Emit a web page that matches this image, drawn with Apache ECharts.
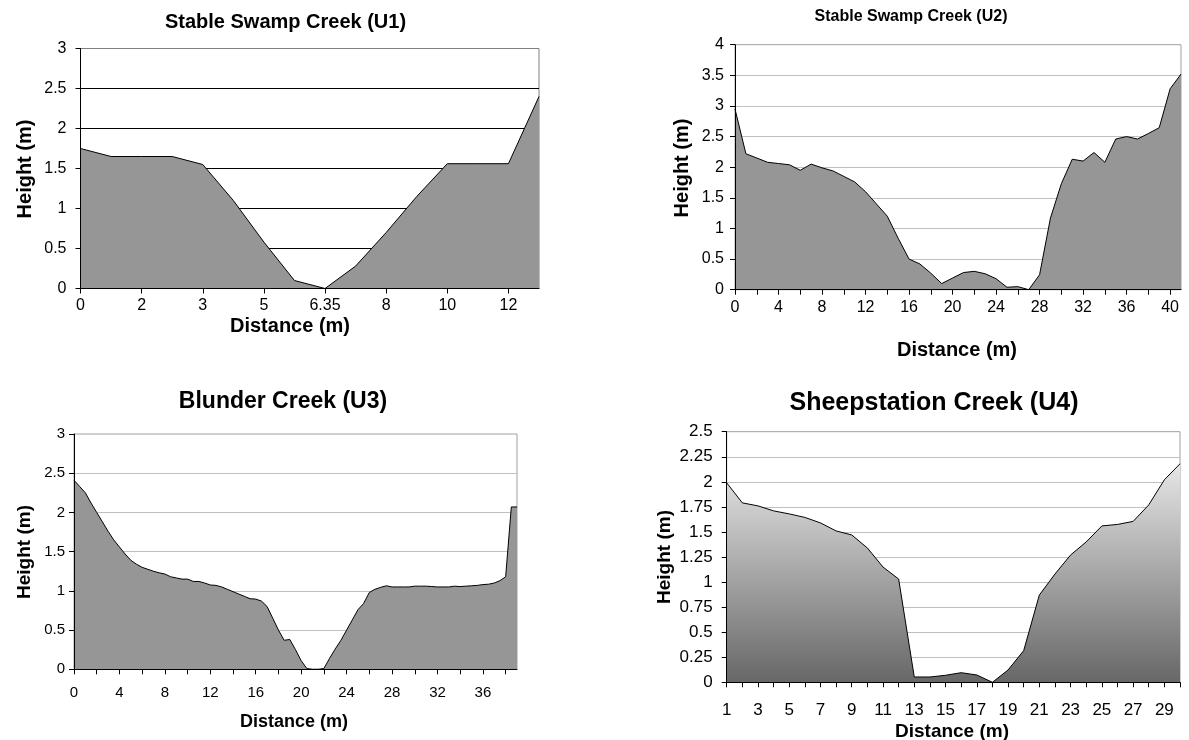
<!DOCTYPE html>
<html>
<head>
<meta charset="utf-8">
<script src="https://cdn.jsdelivr.net/npm/echarts@6/dist/echarts.min.js"></script>
<style>
  html, body { margin: 0; padding: 0; background: #fff; }
  #chart { width: 1189px; height: 740px; }
</style>
</head>
<body>
<div id="chart"></div>
<script>
// ---------- DATA ----------
// U1: Stable Swamp Creek
const u1Categories = ['0', '', '2', '', '3', '', '5', '', '6.35', '', '8', '', '10', '', '12', ''];
const u1Height = [1.75, 1.65, 1.65, 1.65, 1.55, 1.10, 0.58, 0.10, 0, 0.28, 0.70, 1.15, 1.56, 1.56, 1.56, 2.40];
const u1YTicks = [0, 0.5, 1, 1.5, 2, 2.5, 3];

// U2: Stable Swamp Creek
const u2Distance = [0,1,2,3,4,5,6,7,8,9,10,11,12,13,14,15,16,17,18,19,20,21,22,23,24,25,26,27,28,29,30,31,32,33,34,35,36,37,38,39,40,41];
const u2Height = [2.95, 2.22, 2.15, 2.08, 2.06, 2.04, 1.95, 2.05, 1.99, 1.94, 1.85, 1.76, 1.60, 1.40, 1.20, 0.84,
                  0.50, 0.42, 0.27, 0.10, 0.19, 0.28, 0.30, 0.26, 0.18, 0.04, 0.05, 0.0, 0.245, 1.17, 1.73, 2.13,
                  2.10, 2.24, 2.08, 2.46, 2.50, 2.46, 2.55, 2.645, 3.28, 3.52];
const u2YTicks = [0, 0.5, 1, 1.5, 2, 2.5, 3, 3.5, 4];

// U3: Blunder Creek (0.5 m steps, 0 - 39 m)
const u3Distance = ['0','0.5','1','1.5','2','2.5','3','3.5','4','4.5','5','5.5','6','6.5','7','7.5','8','8.5','9','9.5',
                    '10','10.5','11','11.5','12','12.5','13','13.5','14','14.5','15','15.5','16','16.5','17','17.5','18','18.5','19','19.5',
                    '20','20.5','21','21.5','22','22.5','23','23.5','24','24.5','25','25.5','26','26.5','27','27.5','28','28.5','29','29.5',
                    '30','30.5','31','31.5','32','32.5','33','33.5','34','34.5','35','35.5','36','36.5','37','37.5','38','38.5','39'];
const u3Height = [2.41, 2.33, 2.25, 2.12, 2.00, 1.88, 1.76, 1.65, 1.56, 1.47,
                  1.39, 1.34, 1.30, 1.275, 1.25, 1.23, 1.215, 1.18, 1.165, 1.15,
                  1.15, 1.12, 1.12, 1.10, 1.075, 1.07, 1.05, 1.02, 0.99, 0.96,
                  0.93, 0.90, 0.895, 0.87, 0.80, 0.65, 0.50, 0.37, 0.38, 0.25,
                  0.11, 0.01, 0, 0, 0.01, 0.14, 0.26, 0.37, 0.50, 0.63,
                  0.76, 0.84, 0.98, 1.02, 1.045, 1.065, 1.05, 1.05, 1.05, 1.05,
                  1.06, 1.06, 1.06, 1.055, 1.05, 1.05, 1.05, 1.06, 1.055, 1.06,
                  1.065, 1.07, 1.08, 1.085, 1.10, 1.13, 1.18, 2.07, 2.07];
const u3YTicks = [0, 0.5, 1, 1.5, 2, 2.5, 3];

// U4: Sheepstation Creek
const u4Distance = ['1','2','3','4','5','6','7','8','9','10','11','12','13','14','15','16','17','18','19','20','21','22','23','24','25','26','27','28','29','30'];
const u4Height = [1.99, 1.79, 1.76, 1.71, 1.68, 1.645, 1.59, 1.51, 1.47, 1.34, 1.15, 1.03, 0.053, 0.053, 0.07,
                  0.096, 0.073, 0, 0.123, 0.316, 0.87, 1.08, 1.27, 1.40, 1.56, 1.575, 1.605, 1.77, 2.02, 2.18];
const u4YTicks = [0, 0.25, 0.5, 0.75, 1, 1.25, 1.5, 1.75, 2, 2.25, 2.5];

// ---------- CHART ----------
const FONT = '"Liberation Sans", Arial, Helvetica, sans-serif';
const chart = echarts.init(document.getElementById('chart'), null, { renderer: 'canvas' });

const panels = [
  { grid: { left: 80.5, top: 48.5, width: 458.5, height: 240 }, cats: u1Categories, data: u1Height, yTicks: u1YTicks,
    labelInterval: 1, tickInterval: 1, labelSize: 16, yMargin: 14, xMargin: 9, gridColor: '#000000',
    fill: '#969696' },
  { grid: { left: 735, top: 44.7, width: 446, height: 245 }, cats: u2Distance.map(String), data: u2Height, yTicks: u2YTicks,
    labelInterval: 3, tickInterval: 1, labelSize: 16, yMargin: 11, xMargin: 10, gridColor: '#c0c0c0',
    fill: '#969696' },
  { grid: { left: 74, top: 434, width: 443, height: 235.3 }, cats: u3Distance, data: u3Height, yTicks: u3YTicks,
    labelInterval: 7, tickInterval: 3, labelSize: 15, yMargin: 9, xMargin: 16, gridColor: '#c0c0c0',
    fill: '#969696' },
  { grid: { left: 726.7, top: 431.7, width: 453.3, height: 250.6 }, cats: u4Distance, data: u4Height, yTicks: u4YTicks,
    labelInterval: 1, tickInterval: 0, labelSize: 17, yMargin: 14, xMargin: 20, gridColor: '#c0c0c0',
    fill: new echarts.graphic.LinearGradient(0, 0, 0, 1, [
      { offset: 0, color: '#e6e6e6' }, { offset: 1, color: '#676767' }]) }
];

const grids = [], xAxes = [], yAxes = [], series = [];
panels.forEach((p, i) => {
  const yMin = p.yTicks[0], yMax = p.yTicks[p.yTicks.length - 1], yInt = p.yTicks[1] - p.yTicks[0];
  grids.push(Object.assign({ show: true, borderColor: i === 0 ? '#808080' : '#a0a0a0', borderWidth: 1,
    backgroundColor: 'transparent', containLabel: false }, p.grid));
  xAxes.push({
    type: 'category', gridIndex: i, data: p.cats, boundaryGap: false, z: 5,
    axisLine: { show: true, lineStyle: { color: '#000', width: 1 } },
    axisTick: { show: true, inside: false, length: 5, interval: p.tickInterval, lineStyle: { color: '#000' } },
    axisLabel: { show: true, interval: p.labelInterval, color: '#000', fontSize: p.labelSize, fontFamily: FONT, margin: p.xMargin },
    splitLine: { show: false }
  });
  yAxes.push({
    type: 'value', gridIndex: i, min: yMin, max: yMax, interval: yInt, position: 'left', z: 5,
    axisLine: { show: true, lineStyle: { color: '#000', width: 1 } },
    axisTick: { show: true, inside: false, length: 5, lineStyle: { color: '#000' } },
    axisLabel: { show: true, color: '#000', fontSize: p.labelSize, fontFamily: FONT, margin: p.yMargin },
    splitLine: { show: false }
  });
  yAxes.push({
    type: 'value', gridIndex: i, min: yMin, max: yMax, interval: yInt, position: 'left', z: 0,
    axisLine: { show: false }, axisTick: { show: false }, axisLabel: { show: false },
    splitLine: { show: true, showMinLine: false, showMaxLine: false, lineStyle: { color: p.gridColor, width: 1 } }
  });
  series.push({
    type: 'line', xAxisIndex: i, yAxisIndex: 2 * i, data: p.data, symbol: 'none', showSymbol: false,
    smooth: false, z: 2, animation: false,
    lineStyle: { color: '#000', width: 1 },
    areaStyle: { color: p.fill, opacity: 1 }
  });
});

function txt(text, x, y, size, rot) {
  const el = {
    type: 'text', x: x, y: y, z: 10,
    style: { text: text, font: 'bold ' + size + 'px ' + FONT, fill: '#000',
             align: 'center', verticalAlign: 'middle', textAlign: 'center', textVerticalAlign: 'middle' }
  };
  if (rot) el.rotation = Math.PI / 2;
  return el;
}

const graphics = [
  txt('Stable Swamp Creek (U1)', 285.5, 22.5, 20),
  txt('Height (m)', 25, 169, 20, true),
  txt('Distance (m)', 290, 326, 20),

  txt('Stable Swamp Creek (U2)', 911, 17, 16),
  txt('Height (m)', 682, 168, 20, true),
  txt('Distance (m)', 957, 350, 20),

  txt('Blunder Creek (U3)', 283, 402, 23),
  txt('Height (m)', 25, 552, 19, true),
  txt('Distance (m)', 294, 722, 18),

  txt('Sheepstation Creek (U4)', 934, 403, 25),
  txt('Height (m)', 665, 557, 19, true),
  txt('Distance (m)', 952, 732, 19)
];

chart.setOption({
  backgroundColor: '#ffffff',
  animation: false,
  textStyle: { fontFamily: FONT },
  grid: grids,
  xAxis: xAxes,
  yAxis: yAxes,
  series: series,
  graphic: graphics
});
</script>
</body>
</html>
